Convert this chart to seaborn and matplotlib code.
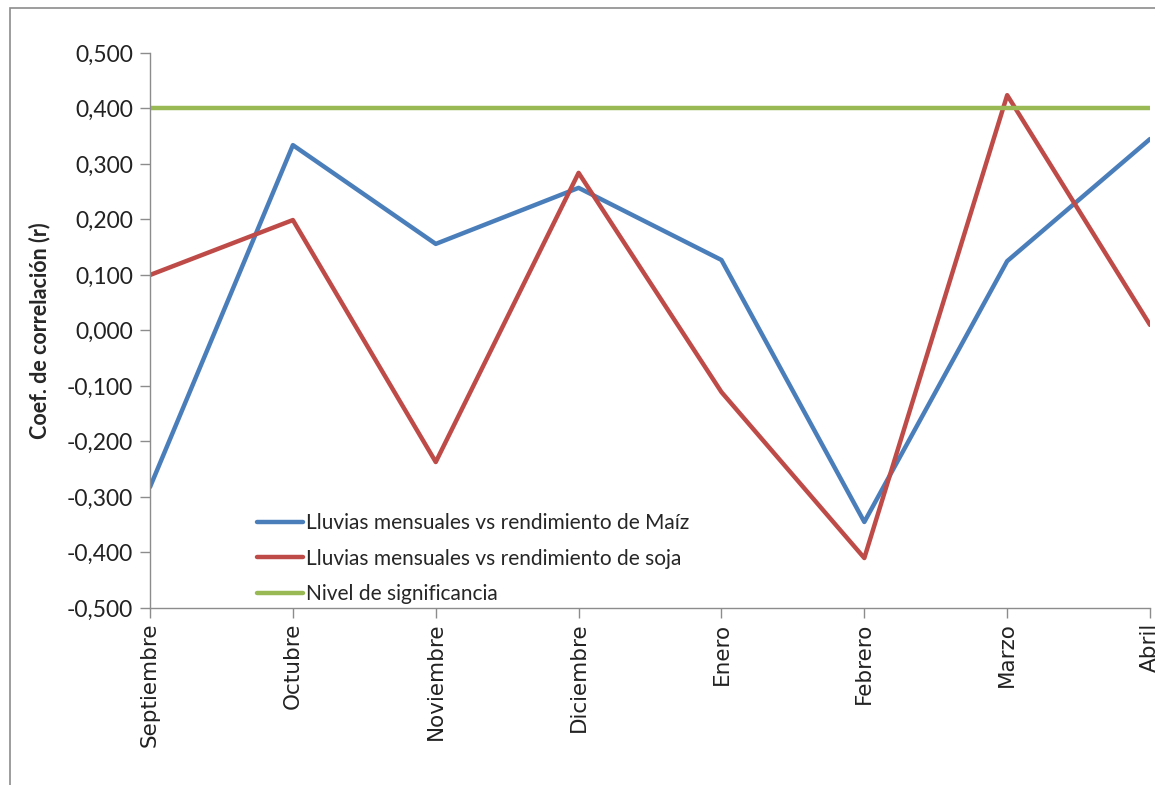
"""Coeficiente de correlación entre lluvias mensuales y rendimiento."""

import matplotlib.pyplot as plt
import numpy as np
import pandas as pd
import seaborn as sns
from matplotlib.patches import Rectangle
from matplotlib.ticker import FuncFormatter

meses = ["Septiembre", "Octubre", "Noviembre", "Diciembre",
         "Enero", "Febrero", "Marzo", "Abril"]
maiz = [-0.282, 0.334, 0.156, 0.257, 0.127, -0.345, 0.125, 0.345]
soja = [0.100, 0.199, -0.237, 0.284, -0.111, -0.410, 0.424, 0.010]
significancia = [0.400, 0.400, 0.400, 0.400, 0.400, 0.400, 0.400, 0.400]

series = {
    "Lluvias mensuales vs rendimiento de Maíz": (maiz, "#4A7EBB"),
    "Lluvias mensuales vs rendimiento de soja": (soja, "#BE4B48"),
    "Nivel de significancia": (significancia, "#98B954"),
}

sns.set_style("white")
plt.rcParams["font.family"] = ["Lato", "DejaVu Sans"]

fig = plt.figure(figsize=(11.55, 7.85), dpi=100)
axis = fig.add_axes([0.1299, 0.2255, 0.8658, 0.707])

# marco gris del área del gráfico
fig.patches.append(Rectangle((10 / 1155, -0.05), 1.2, 1 - 8 / 785 + 0.05,
                             transform=fig.transFigure, fill=False,
                             edgecolor="#8C8C8C", linewidth=1.2))

posiciones = np.arange(len(meses))
for nombre, (valores, color) in series.items():
    frame = pd.DataFrame({"mes": posiciones, "r": valores})
    sns.lineplot(data=frame, x="mes", y="r", color=color, linewidth=3.2,
                 label=nombre, ax=axis)

axis.set_xlim(0, len(meses) - 1)
axis.set_ylim(-0.5, 0.5)
axis.set_yticks(np.arange(-0.5, 0.51, 0.1))
axis.yaxis.set_major_formatter(
    FuncFormatter(lambda v, _: f"{v:.3f}".replace(".", ",").replace("-0,000", "0,000")))
axis.set_xticks(posiciones)
axis.set_xticklabels(meses, rotation=90, fontsize=15.5, family="DejaVu Sans",
                     color="#222222")
axis.tick_params(axis="y", labelsize=16.5, colors="#222222", pad=5)
axis.tick_params(direction="out", length=7, width=1, color="#8C8C8C",
                 left=True, bottom=True)
axis.set_xlabel("")
axis.set_ylabel("Coef. de correlación (r)", fontsize=15.5, fontweight="bold",
                labelpad=12)

for side in ("top", "right"):
    axis.spines[side].set_visible(False)
for side in ("left", "bottom"):
    axis.spines[side].set_color("#8C8C8C")
    axis.spines[side].set_linewidth(1)

axis.legend(loc="upper left", bbox_to_anchor=(0.088, 0.205), frameon=False,
            fontsize=15, handlelength=2.2, handletextpad=0.15, labelspacing=0.75)

fig.savefig("out.png", dpi=100)
